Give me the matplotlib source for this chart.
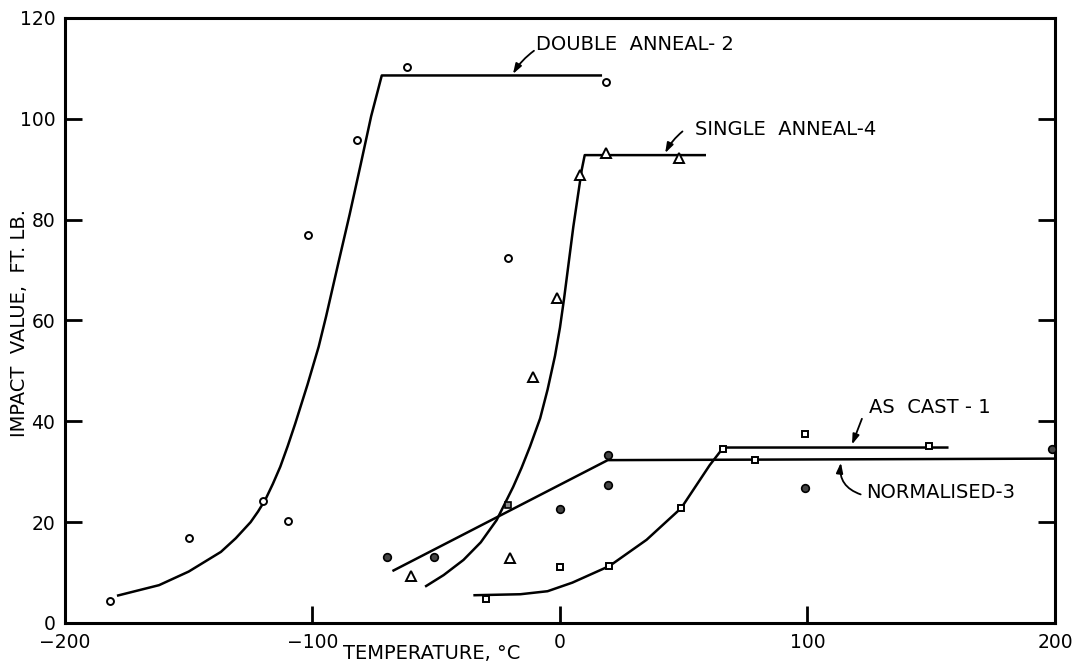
import matplotlib.pyplot as plt

# measured points (temperature degC, impact value ft.lb)
as_cast_x = [-30, 0, 20, 49, 66, 79, 99, 149]
as_cast_y = [4.8, 11.2, 11.4, 22.9, 34.5, 32.3, 37.4, 35.1]

double_x = [-182, -150, -120, -110, -102, -82, -62, -21, 18.5]
double_y = [4.4, 16.9, 24.1, 20.2, 77, 95.8, 110.2, 72.4, 107.3]

norm_x = [-70, -51, 0, 19.3, 19.3, 99, 199]
norm_y = [13, 13, 22.6, 27.4, 33.3, 26.7, 34.5]

single_x = [-60, -20, -11, -1.3, 8, 18.6, 48]
single_y = [9.4, 12.8, 48.7, 64.5, 88.9, 93.3, 92.2]

# odd point sitting on the crossing
extra_x = [-21]
extra_y = [23.4]

# hand drawn trend curves
double_cx = [-179, -162, -150, -137, -131, -125, -122, -119, -116, -113, -110, -107,
             -102, -97.5, -94.5, -89.5, -85, -80.5, -76.3, -72, 17]
double_cy = [5.4, 7.5, 10.2, 14.1, 16.8, 20, 22.1, 24.5, 27.6, 31, 35.1, 39.5,
             47.3, 54.8, 60.8, 71.5, 81, 91, 100.5, 108.6, 108.6]

single_cx = [-54.5, -47, -39, -32, -25.6, -18.9, -15.5, -12.1, -8, -5, -2, 0, 1.7,
             5.4, 8.8, 10, 59]
single_cy = [7.2, 9.5, 12.5, 16, 20.4, 27, 30.8, 35, 40.6, 46.3, 53, 58.6, 64.5,
             78.6, 89.9, 92.8, 92.8]

cast_cx = [-35, -16, -5, 5, 20, 35, 49, 60.5, 66, 157]
cast_cy = [5.5, 5.7, 6.3, 8, 11.3, 16.5, 22.8, 31.3, 34.8, 34.8]

norm_cx = [-67.7, 19.3, 200]
norm_cy = [10.3, 32.3, 32.6]

x_ticks = [-200, -100, 0, 100, 200]
x_labels = ["\u2212200", "\u2212100", "0", "100", "200"]
y_ticks = [0, 20, 40, 60, 80, 100, 120]

plt.rcParams['font.family'] = ['DejaVu Sans']

fig = plt.figure(figsize=(10.85, 6.66), dpi=100)
ax = fig.add_axes([0.0599, 0.0646, 0.9124, 0.9084])

lw = 1.8
for cx, cy in [(double_cx, double_cy), (single_cx, single_cy),
               (cast_cx, cast_cy), (norm_cx, norm_cy)]:
    ax.plot(cx, cy, color='black', lw=lw, solid_capstyle='butt',
            solid_joinstyle='round', zorder=2)

ms = 5
ax.plot(double_x, double_y, 'o', ms=ms, mfc='white', mec='black', mew=1.4, zorder=3)
ax.plot(single_x, single_y, '^', ms=ms + 1.5, mfc='white', mec='black', mew=1.4, zorder=3)
ax.plot(as_cast_x, as_cast_y, 's', ms=ms, mfc='white', mec='black', mew=1.4, zorder=3)
ax.plot(norm_x, norm_y, 'o', ms=ms + 0.5, mfc='#444444', mec='black', mew=1.2, zorder=3)
ax.plot(extra_x, extra_y, 's', ms=ms, mfc='#888888', mec='black', mew=1.2, zorder=3)

ax.set_xlim(-200, 200)
ax.set_ylim(0, 120)
ax.set_xticks(x_ticks)
ax.set_xticklabels(x_labels)
ax.set_yticks(y_ticks)

for s in ax.spines.values():
    s.set_linewidth(2.2)

ax.tick_params(axis='both', direction='in', length=12, width=2,
               labelsize=13.5, pad=7)
ax.tick_params(axis='y', right=True, left=True)

# labels
tk = dict(fontsize=14, color='black')
ax.text(-9.5, 114.7, "DOUBLE  ANNEAL- 2", va='center', ha='left', **tk)
ax.text(54.5, 97.8, "SINGLE  ANNEAL-4", va='center', ha='left', **tk)
ax.text(124.8, 42.7, "AS  CAST - 1", va='center', ha='left', **tk)
ax.text(123.6, 25.8, "NORMALISED-3", va='center', ha='left', **tk)

arr = dict(arrowstyle='-|>,head_length=0.6,head_width=0.2', color='black', lw=1.3,
           shrinkA=0, shrinkB=0)
ax.annotate("", xy=(-19, 108.9), xytext=(-10.5, 113.5),
            arrowprops=dict(connectionstyle='arc3,rad=0.1', **arr))
ax.annotate("", xy=(42.5, 93.2), xytext=(49.5, 97.5),
            arrowprops=dict(connectionstyle='arc3,rad=0.1', **arr))
ax.annotate("", xy=(118, 35.4), xytext=(122, 40.5),
            arrowprops=dict(connectionstyle='arc3,rad=0.0', **arr))
ax.annotate("", xy=(113.5, 31.8), xytext=(121.5, 25.5),
            arrowprops=dict(connectionstyle='arc3,rad=-0.4', **arr))

fig.text(0.316, 0.019, "TEMPERATURE, \u00b0C", fontsize=14, ha='left', va='center')
fig.text(0.018, 0.515, "IMPACT  VALUE,  FT. LB.", fontsize=14, rotation=90,
         ha='center', va='center')

fig.savefig("out.png", dpi=100)
